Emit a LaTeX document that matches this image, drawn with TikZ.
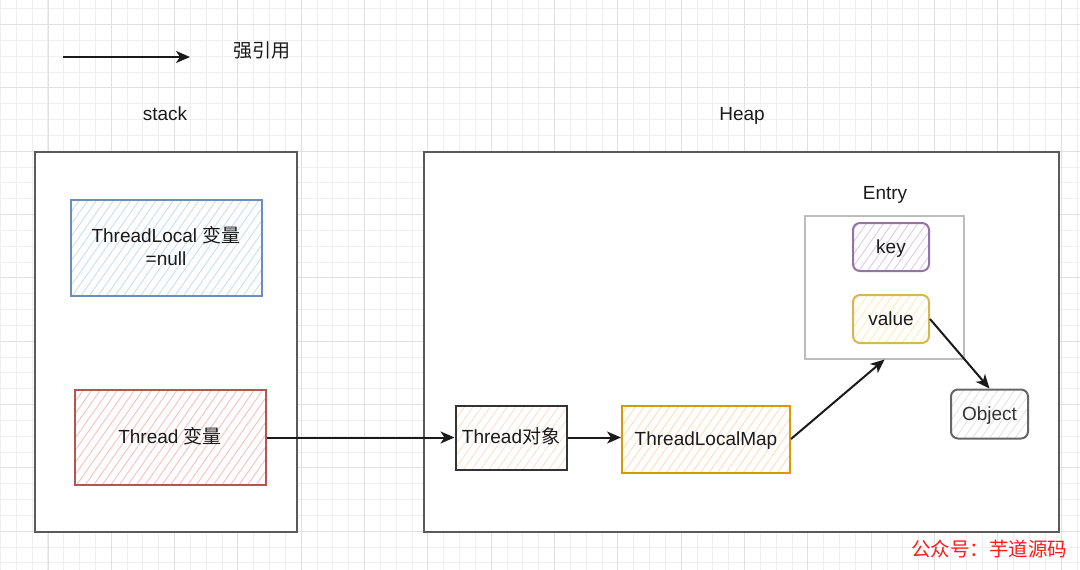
\documentclass[tikz,border=0pt]{standalone}
\usepackage{fontspec}
\setmainfont{Liberation Sans}
\newfontfamily\cjk{Noto Sans CJK SC}
\usetikzlibrary{arrows.meta,patterns.meta}
\definecolor{gridminor}{HTML}{EFEFEF}
\definecolor{gridmajor}{HTML}{E0E0E0}
\definecolor{frame}{HTML}{5A5A5A}
\definecolor{entryframe}{HTML}{BDBDBD}
\definecolor{txt}{HTML}{1A1A1A}
\definecolor{blueS}{HTML}{6C8EBF}\definecolor{blueF}{HTML}{CFDFF5}
\definecolor{redS}{HTML}{B85450}\definecolor{redF}{HTML}{F6C6C4}
\definecolor{darkS}{HTML}{333333}\definecolor{darkF}{HTML}{FBE3D2}
\definecolor{orangeS}{HTML}{D79B00}\definecolor{orangeF}{HTML}{FFDFC2}
\definecolor{purpleS}{HTML}{9673A6}\definecolor{purpleF}{HTML}{DDD0E6}
\definecolor{yellowS}{HTML}{D6B656}\definecolor{yellowF}{HTML}{FFECC0}
\definecolor{grayS}{HTML}{666666}\definecolor{grayF}{HTML}{E6E6E6}
\definecolor{wm}{HTML}{FF1A1A}
\tikzset{
  lbl/.style={font=\fontsize{19}{23}\selectfont, text=txt, inner sep=0pt, anchor=base},
  container/.style={draw=frame, fill=white, line width=2pt, inner sep=0pt},
  entrybox/.style={draw=entryframe, fill=white, line width=2pt, inner sep=0pt},
  hatchbox/.style 2 args={line width=2pt, preaction={fill=white},
    pattern={Lines[angle=55,distance=7pt,line width=1pt]}, pattern color=#2,
    postaction={draw=#1, line width=2pt},
    align=center, inner sep=0pt, text height=12pt, text depth=0pt,
    font=\fontsize{19}{23}\selectfont, text=txt},
  conn/.style={draw=txt, line width=2pt, -{Stealth[length=14pt,width=12pt,inset=4pt]}},
  gminor/.style={draw=gridminor, line width=1pt},
  gmajor/.style={draw=gridmajor, line width=1pt}
}
\begin{document}
\begin{tikzpicture}[x=1pt,y=-1pt]
\useasboundingbox (0,0) rectangle (1080,570);
\fill[white] (0,0) rectangle (1080,570);
% grid
\foreach \i in {0,...,68} {\pgfmathsetmacro\gx{round(\i*15.8333)+0.5}\draw[gminor] (\gx,0) -- (\gx,570);}
\foreach \j in {0,...,35} {\pgfmathsetmacro\gy{round(8.17+\j*15.8333)+0.5}\draw[gminor] (0,\gy) -- (1080,\gy);}
\foreach \i in {0,...,16} {\pgfmathsetmacro\gx{round(47.5+\i*63.333)+0.5}\draw[gmajor] (\gx,0) -- (\gx,570);}
\foreach \j in {0,...,8} {\pgfmathsetmacro\gy{round(24+\j*63.333)+0.5}\draw[gmajor] (0,\gy) -- (1080,\gy);}

% legend
\coordinate (la) at (63,57);
\coordinate (lb) at (190,57);
\draw[conn] (la) -- (lb);
\node[lbl] (legend) at (262,57) {\cjk 强引用};

% titles
\node[lbl] (stacklbl) at (165,120) {stack};
\node[lbl] (heaplbl) at (742,120) {Heap};

% containers
\node[container, minimum width=262pt, minimum height=380pt] (stack) at (166,342) {};
\node[container, minimum width=635pt, minimum height=380pt] (heap) at (741.5,342) {};

% stack contents
\node[hatchbox={blueS}{blueF}, text height=35pt, minimum width=191pt, minimum height=96pt] (tl) at (166,248)
  {ThreadLocal {\cjk 变量}\\=null};
\node[hatchbox={redS}{redF}, minimum width=191pt, minimum height=95pt] (tv) at (170,437.5)
  {Thread {\cjk 变量}};

% heap contents
\node[hatchbox={darkS}{darkF}, minimum width=111pt, minimum height=64pt] (to) at (511,437.5)
  {Thread{\cjk 对象}};
\node[hatchbox={orangeS}{orangeF}, minimum width=168pt, minimum height=67pt] (tlm) at (706,439)
  {ThreadLocalMap};

\node[lbl] (entrylbl) at (885,199) {Entry};
\node[entrybox, minimum width=159pt, minimum height=143pt] (entry) at (884.5,287) {};
\node[hatchbox={purpleS}{purpleF}, rounded corners=7pt, minimum width=76pt, minimum height=48pt] (key) at (891,247) {key};
\node[hatchbox={yellowS}{yellowF}, rounded corners=7pt, minimum width=76pt, minimum height=48pt] (value) at (891,319) {value};
\node[hatchbox={grayS}{grayF}, rounded corners=7pt, minimum width=77pt, minimum height=49pt, text=darkS] (obj) at (989.5,414) {Object};

% connectors
\draw[conn] (tv.east) -- (to.west |- tv.east);
\draw[conn] (to.east) -- (tlm.west |- to.east);
\draw[conn] (tlm.east) -- (entry.south);
\draw[conn] (value.east) -- (obj.north);

% watermark
\node[font=\cjk\fontsize{19.5}{22}\selectfont, text=wm, inner sep=0pt] (wmark) at (989,549) {公众号：芋道源码};
\end{tikzpicture}
\end{document}
